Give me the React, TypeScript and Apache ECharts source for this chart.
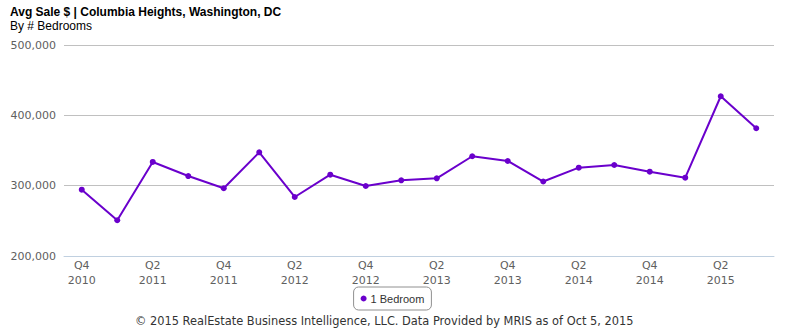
import React, { useEffect, useRef } from "react";
import * as echarts from "echarts";

const categories = [
  "Q4 2010", "Q1 2011", "Q2 2011", "Q3 2011", "Q4 2011",
  "Q1 2012", "Q2 2012", "Q3 2012", "Q4 2012", "Q1 2013",
  "Q2 2013", "Q3 2013", "Q4 2013", "Q1 2014", "Q2 2014",
  "Q3 2014", "Q4 2014", "Q1 2015", "Q2 2015", "Q3 2015",
];
const oneBedroom = [
  294300, 250800, 333700, 313700, 296300,
  347400, 283900, 315600, 299500, 307600,
  310500, 341800, 335100, 305900, 325600,
  329400, 319900, 311300, 427100, 381600,
];
const seriesName = "1 Bedroom";
const titleText = "Avg Sale $ | Columbia Heights, Washington, DC";
const subtitleText = "By # Bedrooms";
const footerText = "© 2015 RealEstate Business Intelligence, LLC. Data Provided by MRIS as of Oct 5, 2015";

export default function App() {
  const ref = useRef<HTMLDivElement>(null);
  useEffect(() => {
    document.body.style.margin = "0";
    if (!ref.current) return;
    const chart = echarts.init(ref.current, null, { renderer: "svg" });
    const axisFont = "DejaVu Sans, sans-serif";
    const sansFont = "Liberation Sans, Arial, sans-serif";
    chart.setOption({
      animation: false,
      backgroundColor: "#ffffff",
      title: [
        {
          text: titleText,
          subtext: subtitleText,
          left: 5,
          top: 1,
          itemGap: 2,
          textStyle: {
            fontFamily: sansFont,
            fontSize: 12,
            fontWeight: "bold",
            color: "#000000",
          },
          subtextStyle: {
            fontFamily: sansFont,
            fontSize: 12,
            color: "#000000",
          },
        },
        {
          text: footerText,
          left: 130,
          top: 310,
          textStyle: {
            fontFamily: axisFont,
            fontSize: 11.4,
            fontWeight: "normal",
            color: "#333333",
          },
        },
      ],
      legend: {
        data: [seriesName],
        left: "center",
        top: 287,
        icon: "circle",
        itemWidth: 6,
        itemHeight: 6,
        itemGap: 5,
        padding: [6, 7, 6, 7],
        borderColor: "#909090",
        borderWidth: 1,
        borderRadius: 5,
        textStyle: {
          fontFamily: sansFont,
          fontSize: 11,
          color: "#333333",
          padding: [0, 0, 0, -1],
        },
      },
      grid: {
        left: 64,
        right: 11,
        top: 45,
        height: 211,
        containLabel: false,
      },
      xAxis: {
        type: "category",
        data: categories,
        boundaryGap: true,
        axisLine: { lineStyle: { color: "#c0d0e0", width: 1 } },
        axisTick: { show: false },
        axisLabel: {
          interval: 1,
          fontFamily: axisFont,
          fontSize: 11,
          color: "#606060",
          lineHeight: 15,
          margin: 2,
          formatter: (v: string) => v.replace(" ", "\n"),
        },
        splitLine: { show: false },
      },
      yAxis: {
        type: "value",
        min: 200000,
        max: 500000,
        interval: 100000,
        axisLine: { show: false },
        axisTick: { show: false },
        axisLabel: {
          fontFamily: axisFont,
          fontSize: 11,
          color: "#606060",
          margin: 8,
          formatter: (v: number) => v.toLocaleString("en-US"),
        },
        splitLine: { lineStyle: { color: "#c0c0c0", width: 1 } },
      },
      series: [
        {
          name: seriesName,
          type: "line",
          data: oneBedroom,
          color: "#6a00cc",
          lineStyle: { width: 2, color: "#6a00cc" },
          symbol: "circle",
          symbolSize: 6,
          itemStyle: { color: "#6a00cc" },
        },
      ],
    });
    return () => chart.dispose();
  }, []);
  return <div ref={ref} style={{ width: 785, height: 330 }} />;
}
